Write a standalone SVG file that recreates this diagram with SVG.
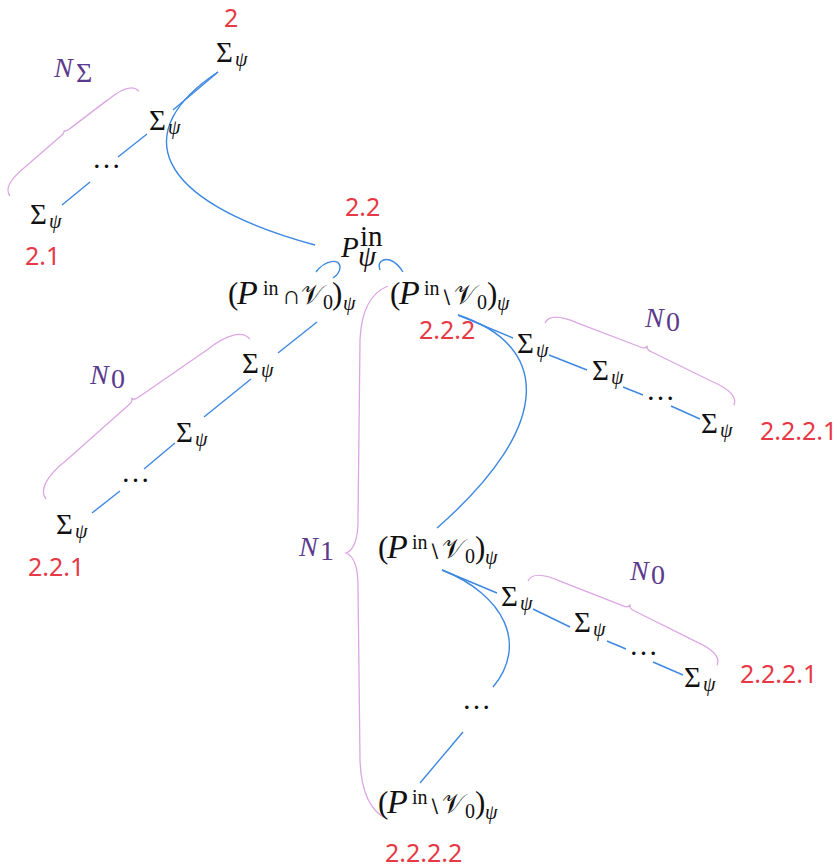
<svg xmlns="http://www.w3.org/2000/svg" width="839" height="868" viewBox="0 0 839 868">
<style>
.m{font-family:"Liberation Serif","DejaVu Serif",serif;font-size:29px;fill:#111}
.b{font-size:31px}
.i{font-style:italic}
.pp{font-size:34px}
.s{font-size:20px}
.v{font-size:27px}
.sm{font-family:"DejaVu Sans",sans-serif;font-size:19px}
.r{font-family:"Noto Sans","Open Sans",sans-serif;font-size:25px;fill:#e63946}
.p{font-family:"Liberation Serif",serif;font-size:28px;fill:#5b3a8e}
.ln{fill:none;stroke:#3d88e2;stroke-width:1.4}
.br{fill:none;stroke:#dca6e4;stroke-width:1.3}
</style>
<rect width="839" height="868" fill="#fff"/>
<g id="connectors">
<path class="ln" d="M218,72 L173,110"/>
<path class="ln" d="M218,72 C130,130 150,200 315,245"/>
<path class="ln" d="M147,134 L118,157"/>
<path class="ln" d="M90,182 L62,205"/>
<path class="ln" d="M316,272 C325,260 340,258 340,267 C340,272 336,276 333,278"/>
<path class="ln" d="M380,270 C377,262 383,258 390,260 C395,262 400,267 403,272"/>
<path class="ln" d="M317,322 L278,353"/>
<path class="ln" d="M251,379 L204,417"/>
<path class="ln" d="M175,443 L144,469"/>
<path class="ln" d="M120,491 L92,513"/>
<path class="ln" d="M458,315 L513,338"/>
<path class="ln" d="M458,315 C550,345 555,425 437,528"/>
<path class="ln" d="M549,355 L587,370"/>
<path class="ln" d="M623,387 L643,395"/>
<path class="ln" d="M671,406 L700,419"/>
<path class="ln" d="M442,570 L497,593"/>
<path class="ln" d="M442,570 C505,595 528,645 493,687"/>
<path class="ln" d="M533,609 L570,627"/>
<path class="ln" d="M607,641 L626,649"/>
<path class="ln" d="M653,662 L683,675"/>
<path class="ln" d="M463,732 L420,783"/>
</g>
<g id="braces">
<path class="br" transform="translate(10,196) rotate(-39.1)" d="M0,0 C0,-8.5 10.5,-13 30,-13 L77,-14.5 Q83,-14.5 83,-17 Q83,-14.5 89,-14.5 L136,-13 C155.5,-13 166,-8.5 166,0"/>
<path class="br" transform="translate(545,323) rotate(23.5)" d="M0,0 C0,-8.5 10.5,-13 30,-13 L97,-16 Q103,-16 103,-20 Q103,-16 109,-16 L176,-13 C195.5,-13 206,-8.5 206,0"/>
<path class="br" transform="translate(528,581) rotate(24)" d="M0,0 C0,-8.5 10.5,-13 30,-13 L97,-16 Q103,-16 103,-20 Q103,-16 109,-16 L177,-13 C196.5,-13 207,-8.5 207,0"/>
<path class="br" transform="translate(46,499) rotate(-38.1)" d="M0,0 C0,-11 14,-18 40,-18 L123,-23 Q129.5,-23 129.5,-27 Q129.5,-23 136,-23 L219,-18 C245,-18 259,-11 259,0"/>
<path class="br" d="M388,286 C368,294 361,315 360,340 L358,520 C358,540 354,550 346,553 C354,556 358,566 358,586 L360,760 C361,790 370,811 387,819"/>
</g>
<g id="n2">
<text class="r" x="224" y="27">2</text>
<text class="m" x="216" y="62">Σ</text><text class="m i s" x="235" y="66">ψ</text>
</g>
<g id="n2m">
<text class="m" x="149" y="130">Σ</text><text class="m i s" x="168" y="134">ψ</text>
</g>
<g id="n2d"><text class="m" x="92" y="168">…</text></g>
<g id="n21">
<text class="m" x="30" y="224">Σ</text><text class="m i s" x="49" y="228">ψ</text>
<text class="r" x="25" y="265">2.1</text>
</g>
<g id="lNS"><text class="p i" x="54" y="77">N</text><text class="p" font-size="17" x="76" y="82">Σ</text></g>
<g id="n22">
<text class="r" x="345" y="216">2.2</text>
<text class="m i" x="341" y="257">P</text>
<text class="m" font-size="19" x="360" y="246">in</text>
<text class="m i" font-size="19" x="358" y="266">ψ</text>
</g>
<g id="ncap">
<text class="m b" y="304"><tspan x="228">(</tspan><tspan class="i pp" x="237">P</tspan><tspan class="s" x="263" y="295">in</tspan><tspan font-size="26" x="282" y="304">∩</tspan><tspan class="v" x="301">𝒱</tspan><tspan class="s" x="323" y="309">0</tspan><tspan x="332" y="304">)</tspan><tspan class="i s" x="343" y="310">ψ</tspan></text>
</g>
<g id="n221a"><text class="m" x="242" y="373">Σ</text><text class="m i s" x="261" y="377">ψ</text></g>
<g id="n221b"><text class="m" x="176" y="442">Σ</text><text class="m i s" x="195" y="446">ψ</text></g>
<g id="n221d"><text class="m" x="121" y="482">…</text></g>
<g id="n221">
<text class="m" x="56" y="534">Σ</text><text class="m i s" x="75" y="538">ψ</text>
<text class="r" x="28" y="576">2.2.1</text>
</g>
<g id="lN0a"><text class="p i" x="90" y="384">N</text><text class="p" font-size="19" x="111" y="388">0</text></g>
<g id="n222">
<text class="m b" y="304"><tspan x="390">(</tspan><tspan class="i pp" x="399">P</tspan><tspan class="s" x="424" y="295">in</tspan><tspan class="sm" x="440" y="304">∖</tspan><tspan class="v" x="454">𝒱</tspan><tspan class="s" x="477" y="309">0</tspan><tspan x="487" y="304">)</tspan><tspan class="i s" x="497" y="310">ψ</tspan></text>
<text class="r" x="419" y="339">2.2.2</text>
</g>
<g id="n2221a"><text class="m" x="517" y="353">Σ</text><text class="m i s" x="536" y="357">ψ</text></g>
<g id="n2221b"><text class="m" x="592" y="380">Σ</text><text class="m i s" x="611" y="384">ψ</text></g>
<g id="n2221d"><text class="m" x="646" y="400">…</text></g>
<g id="n2221">
<text class="m" x="701" y="433">Σ</text><text class="m i s" x="720" y="437">ψ</text>
<text class="r" x="760" y="440">2.2.2.1</text>
</g>
<g id="lN0b"><text class="p i" x="645" y="327">N</text><text class="p" font-size="19" x="666" y="331">0</text></g>
<g id="lN1"><text class="p i" x="299" y="556">N</text><text class="p" font-size="19" x="320" y="560">1</text></g>
<g id="n222m">
<text class="m b" y="558"><tspan x="378">(</tspan><tspan class="i pp" x="387">P</tspan><tspan class="s" x="412" y="549">in</tspan><tspan class="sm" x="428" y="558">∖</tspan><tspan class="v" x="442">𝒱</tspan><tspan class="s" x="465" y="563">0</tspan><tspan x="475" y="558">)</tspan><tspan class="i s" x="485" y="564">ψ</tspan></text>
</g>
<g id="n2222a"><text class="m" x="501" y="606">Σ</text><text class="m i s" x="520" y="610">ψ</text></g>
<g id="n2222b"><text class="m" x="574" y="632">Σ</text><text class="m i s" x="593" y="636">ψ</text></g>
<g id="n2222d"><text class="m" x="629" y="655">…</text></g>
<g id="n2222">
<text class="m" x="684" y="687">Σ</text><text class="m i s" x="703" y="691">ψ</text>
<text class="r" x="740" y="683">2.2.2.1</text>
</g>
<g id="lN0c"><text class="p i" x="630" y="580">N</text><text class="p" font-size="19" x="651" y="584">0</text></g>
<g id="nvd"><text class="m" x="462" y="709">…</text></g>
<g id="n2222b2">
<text class="m b" y="813"><tspan x="378">(</tspan><tspan class="i pp" x="387">P</tspan><tspan class="s" x="412" y="804">in</tspan><tspan class="sm" x="428" y="813">∖</tspan><tspan class="v" x="442">𝒱</tspan><tspan class="s" x="465" y="818">0</tspan><tspan x="475" y="813">)</tspan><tspan class="i s" x="485" y="819">ψ</tspan></text>
<text class="r" x="385" y="862">2.2.2.2</text>
</g>
</svg>
